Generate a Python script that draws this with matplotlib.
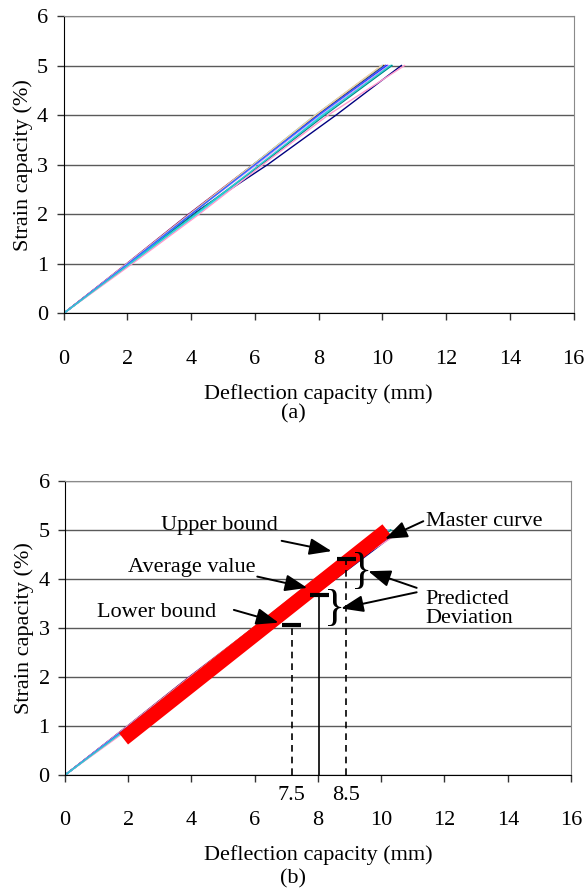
import numpy as np
import matplotlib
matplotlib.use('Agg')
import matplotlib.pyplot as plt

plt.rcParams['font.family'] = ['Liberation Serif', 'DejaVu Serif']
plt.rcParams['font.size'] = 16

# strain levels (%) and deflection (mm) of each test curve
strain = [0, 1, 2, 3, 4, 5]
curves = {
    '#000080': [0, 2.05, 4.05, 6.40, 8.55, 10.60],
    '#FF00FF': [0, 2.00, 3.95, 6.00, 8.00, 10.15],
    '#FFFF00': [0, 2.00, 3.95, 5.95, 7.95, 10.05],
    '#00FFFF': [0, 2.10, 4.20, 6.20, 8.10, 10.30],
    '#800080': [0, 1.97, 3.92, 5.95, 7.95, 10.10],
    '#800000': [0, 2.00, 3.95, 6.00, 7.95, 10.05],
    '#008080': [0, 2.05, 4.10, 6.20, 8.20, 10.30],
    '#0000FF': [0, 2.00, 3.95, 6.00, 8.00, 10.15],
    '#00CCFF': [0, 2.05, 4.00, 5.95, 7.90, 10.00],
    '#FF99CC': [0, 2.15, 4.25, 6.25, 8.30, 10.70],
    '#FFCC99': [0, 1.98, 3.95, 5.95, 7.90, 9.98],
    '#CC99FF': [0, 2.00, 4.00, 6.05, 8.05, 10.20],
    '#3366FF': [0, 2.02, 4.00, 6.00, 8.00, 10.10],
    '#33CCCC': [0, 2.08, 4.15, 6.15, 8.15, 10.25],
}

master_x = [1.85, 10.18]
master_y = [0.74, 5.0]

# lower bound, average, upper bound
bound_x = [7.17, 8.04, 8.90]
bound_y = [3.07, 3.67, 4.40]
bound_lbl = ['7.5', '', '8.5']

xticks = [0, 2, 4, 6, 8, 10, 12, 14, 16]
yticks = [0, 1, 2, 3, 4, 5, 6]

fig = plt.figure(figsize=(5.86, 8.89), dpi=100)
ax1 = fig.add_axes([0.1084, 0.6474, 0.8703, 0.3347])
ax2 = fig.add_axes([0.1109, 0.1282, 0.8635, 0.3307])


def style(ax):
    ax.set_xlim(0, 16)
    ax.set_ylim(0, 6)
    ax.set_xticks(xticks)
    ax.set_yticks(yticks)
    ax.yaxis.grid(True, color='#5a5a5a', lw=1)
    ax.set_axisbelow(True)
    for s in ['top', 'right']:
        ax.spines[s].set_color('#8a8a8a')
    for s in ['left', 'bottom']:
        ax.spines[s].set_color('black')
    ax.tick_params(direction='out', length=5, width=1, color='#333333')
    ax.tick_params(axis='y', pad=6)
    ax.tick_params(axis='x', pad=21)
    ax.set_ylabel('Strain capacity (%)', labelpad=3)
    ax.set_xlabel('Deflection capacity (mm)', labelpad=11)


for col, xs in curves.items():
    ax1.plot(xs, strain, color=col, lw=1)
style(ax1)
fig.text(0.5, 1 - 414 / 889, '(a)', ha='center', va='center', fontsize=16)

for col, xs in curves.items():
    ax2.plot(xs, strain, color=col, lw=1)
ax2.plot(master_x, master_y, color='red', lw=10.5, solid_capstyle='butt', zorder=5)
style(ax2)
fig.text(0.5, 1 - 879 / 889, '(b)', ha='center', va='center', fontsize=16)

styles = ['--', '-', '--']
for bx, by, ls, lb in zip(bound_x, bound_y, styles, bound_lbl):
    line, = ax2.plot([bx, bx], [0, by], color='black', ls=ls, lw=1.2, zorder=6)
    if ls == '--':
        line.set_dashes((4, 3))
    ax2.plot([bx - 0.3, bx + 0.3], [by, by], color='black', lw=3, zorder=6,
             solid_capstyle='butt')
    if lb:
        ax2.text(bx, -0.42, lb, ha='center', va='center', fontsize=16)

# braces for predicted deviation
ax2.text(9.38, 4.14, '}', ha='center', va='center', fontsize=32, zorder=6,
         fontweight='light')
ax2.text(8.54, 3.38, '}', ha='center', va='center', fontsize=32, zorder=6,
         fontweight='light')

arr = dict(arrowstyle='-|>,head_length=0.85,head_width=0.32', color='black',
           lw=1.4, shrinkA=0, shrinkB=0, mutation_scale=16)
ax2.text(4.87, 5.10, 'Upper bound', ha='center', va='center', zorder=7)
ax2.annotate('', xy=(8.43, 4.57), xytext=(6.85, 4.78), arrowprops=arr, zorder=7)
ax2.text(4.0, 4.24, 'Average value', ha='center', va='center', zorder=7)
ax2.annotate('', xy=(7.66, 3.82), xytext=(6.08, 4.05), arrowprops=arr, zorder=7)
ax2.text(2.88, 3.31, 'Lower bound', ha='center', va='center', zorder=7)
ax2.annotate('', xy=(6.75, 3.11), xytext=(5.34, 3.37), arrowprops=arr, zorder=7)
ax2.text(11.40, 5.18, 'Master curve', ha='left', va='center', zorder=7)
ax2.annotate('', xy=(10.12, 4.82), xytext=(11.33, 5.18), arrowprops=arr, zorder=7)
ax2.text(11.40, 3.39, 'Predicted\nDeviation', ha='left', va='center',
         linespacing=1.05, zorder=7)
ax2.annotate('', xy=(9.59, 4.16), xytext=(11.12, 3.82), arrowprops=arr, zorder=7)
ax2.annotate('', xy=(8.73, 3.40), xytext=(11.12, 3.73), arrowprops=arr, zorder=7)

fig.savefig('out.png', dpi=100)
